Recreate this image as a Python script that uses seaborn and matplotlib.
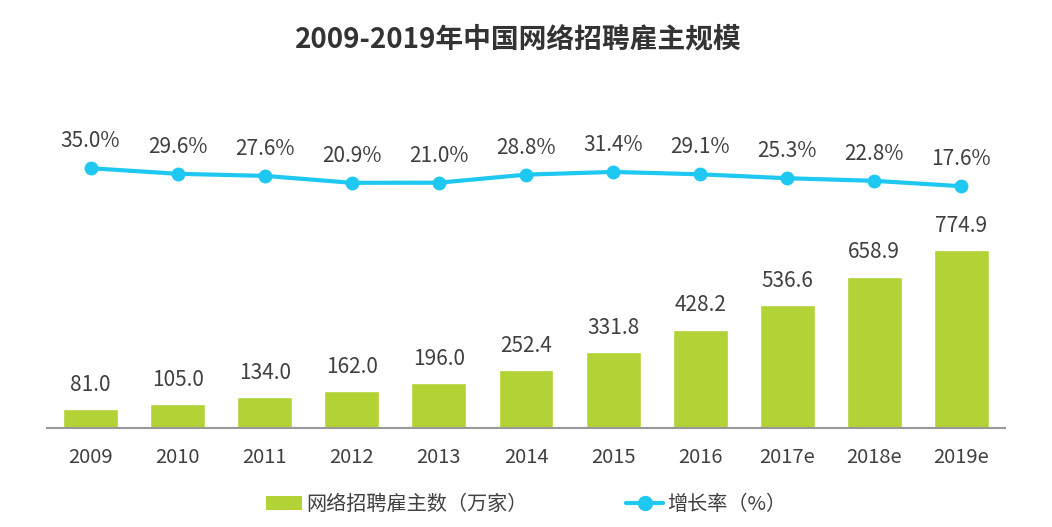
import matplotlib
matplotlib.use('Agg')
import matplotlib.pyplot as plt
import seaborn as sns
import numpy as np
from matplotlib.patches import Patch
from matplotlib.lines import Line2D

years = ['2009', '2010', '2011', '2012', '2013', '2014', '2015', '2016', '2017e', '2018e', '2019e']
employers = [81.0, 105.0, 134.0, 162.0, 196.0, 252.4, 331.8, 428.2, 536.6, 658.9, 774.9]
growth = [35.0, 29.6, 27.6, 20.9, 21.0, 28.8, 31.4, 29.1, 25.3, 22.8, 17.6]

BAR_COLOR = '#b2d235'
LINE_COLOR = '#1ec8f0'
TEXT_COLOR = '#404040'

sns.set_style('white')
plt.rcParams['font.family'] = ['Noto Sans CJK SC', 'DejaVu Sans']

fig = plt.figure(figsize=(10.52, 5.27), dpi=100)
ax = fig.add_axes([0.0447, 0.188, 0.9106, 0.6224])

sns.barplot(x=years, y=employers, color=BAR_COLOR, width=0.63, saturation=1, ax=ax)
ax.set_ylim(0, 1428)
ax.set_xlim(-0.5, 10.5)
for i, v in enumerate(employers):
    ax.text(i, v + 105, f'{v:.1f}', ha='center', va='center', fontsize=15, color=TEXT_COLOR)

ax2 = ax.twinx()
x = np.arange(len(years))
sns.lineplot(x=x, y=growth, color=LINE_COLOR, linewidth=3, marker='o', markersize=10,
             markeredgewidth=0, ax=ax2)
ax2.set_ylim(-216, 101)
ax2.set_xlim(-0.5, 10.5)
for i, v in enumerate(growth):
    ax2.text(i, v + 26, f'{v:.1f}%', ha='center', va='center', fontsize=15, color=TEXT_COLOR)

for a in (ax, ax2):
    for s in a.spines.values():
        s.set_visible(False)
    a.set_yticks([])
    a.set_ylabel('')
ax.spines['bottom'].set_visible(True)
ax.spines['bottom'].set_color('#999999')
ax.spines['bottom'].set_linewidth(1.5)
ax.tick_params(axis='x', length=0, pad=14, labelsize=14.5, labelcolor=TEXT_COLOR)

fig.text(0.493, 0.925, '2009-2019年中国网络招聘雇主规模', ha='center', va='center',
         fontsize=20, fontweight='bold', color='#333333')

handles = [Patch(facecolor=BAR_COLOR, edgecolor='none'),
           Line2D([0], [0], color=LINE_COLOR, linewidth=3, marker='o', markersize=10)]
fig.legend(handles, ['网络招聘雇主数（万家）', '增长率（%）'], loc='center',
           bbox_to_anchor=(0.50, 0.042), ncol=2, frameon=False, fontsize=14.5,
           labelcolor=TEXT_COLOR, handlelength=1.8, handletextpad=0.2, columnspacing=4.9)

fig.savefig('out.png', dpi=100)
